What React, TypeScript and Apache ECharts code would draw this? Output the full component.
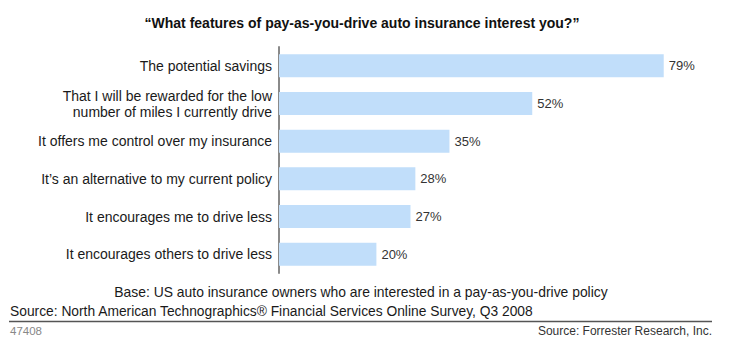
import React, { useEffect, useRef } from "react";
import * as echarts from "echarts";

const categories = [
  "The potential savings",
  "That I will be rewarded for the low\nnumber of miles I currently drive",
  "It offers me control over my insurance",
  "It\u2019s an alternative to my current policy",
  "It encourages me to drive less",
  "It encourages others to drive less",
];
const values = [79, 52, 35, 28, 27, 20];

const titleText = "\u201CWhat features of pay-as-you-drive auto insurance interest you?\u201D";
const baseText = "Base: US auto insurance owners who are interested in a pay-as-you-drive policy";
const sourceText = "Source: North American Technographics\u00AE Financial Services Online Survey, Q3 2008";
const idText = "47408";
const creditText = "Source: Forrester Research, Inc.";

const FONT = "'Liberation Sans', Arial, sans-serif";

export default function App() {
  const ref = useRef<HTMLDivElement>(null);
  useEffect(() => {
    if (!ref.current) return;
    const chart = echarts.init(ref.current, null, { renderer: "svg" });
    chart.setOption({
      animation: false,
      backgroundColor: "#ffffff",
      textStyle: { fontFamily: FONT },
      grid: { left: 279, top: 47, width: 438.3, height: 226, containLabel: false },
      xAxis: {
        type: "value",
        min: 0,
        max: 90,
        show: false,
      },
      yAxis: {
        type: "category",
        data: categories,
        inverse: true,
        axisLine: { show: true, lineStyle: { color: "#8a8a8a", width: 2 } },
        axisTick: { show: false },
        axisLabel: {
          margin: 7,
          color: "#1a1a1a",
          fontSize: 14,
          fontFamily: FONT,
          align: "right",
          lineHeight: 16,
        },
      },
      series: [
        {
          type: "bar",
          data: values,
          barWidth: 23,
          itemStyle: { color: "#c1defa" },
          label: {
            show: true,
            position: "right",
            distance: 5,
            formatter: "{c}%",
            color: "#333333",
            fontSize: 13,
            fontFamily: FONT,
          },
        },
      ],
      graphic: [
        {
          type: "text",
          x: 362,
          y: 23,
          style: { text: titleText, font: `bold 14px ${FONT}`, fill: "#111", align: "center", verticalAlign: "middle" },
        },
        {
          type: "text",
          x: 361,
          y: 292,
          style: { text: baseText, font: `13.9px ${FONT}`, fill: "#1a1a1a", align: "center", verticalAlign: "middle" },
        },
        {
          type: "text",
          x: 10,
          y: 311,
          style: { text: sourceText, font: `13.8px ${FONT}`, fill: "#1a1a1a", align: "left", verticalAlign: "middle" },
        },
        {
          type: "line",
          shape: { x1: 9, y1: 321.5, x2: 712, y2: 321.5 },
          style: { stroke: "#555", lineWidth: 1.5 },
        },
        {
          type: "text",
          x: 10,
          y: 331,
          style: { text: idText, font: `11.5px ${FONT}`, fill: "#888", align: "left", verticalAlign: "middle" },
        },
        {
          type: "text",
          x: 712,
          y: 331,
          style: { text: creditText, font: `12px ${FONT}`, fill: "#333", align: "right", verticalAlign: "middle" },
        },
      ],
    });
    return () => chart.dispose();
  }, []);
  return (
    <div
      ref={ref}
      style={{ position: "fixed", left: 0, top: 0, width: 740, height: 354 }}
    />
  );
}
